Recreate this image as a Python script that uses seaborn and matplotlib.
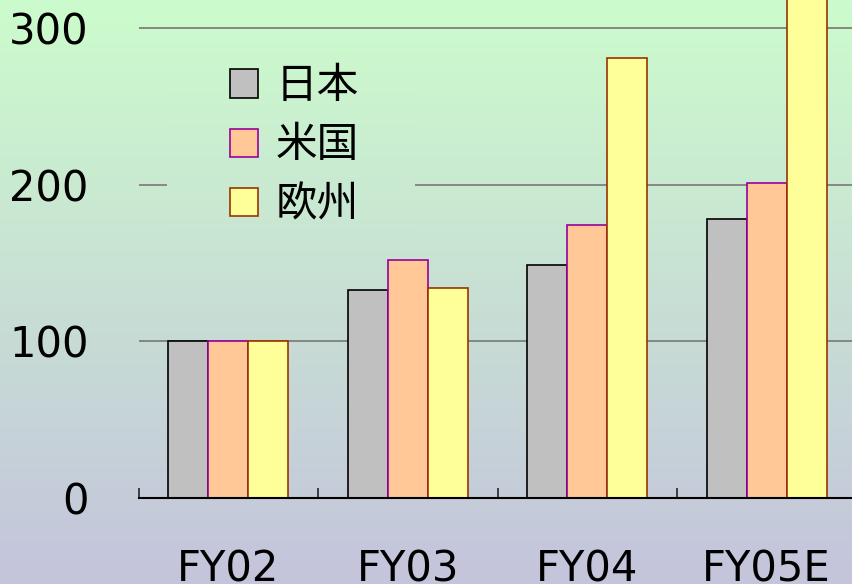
import matplotlib
matplotlib.use('Agg')
import matplotlib.pyplot as plt
import numpy as np
import pandas as pd
import seaborn as sns
from matplotlib.patches import Patch

# data
years = ["FY02", "FY03", "FY04", "FY05E"]
regions = ["日本", "米国", "欧州"]
japan = [100, 133, 149, 178]
usa = [100, 152, 174, 201]
europe = [100, 134, 281, 340]

fill_colors = {"日本": "#C0C0C0", "米国": "#FFC896", "欧州": "#FFFF99"}
edge_colors = {"日本": "#000000", "米国": "#990099", "欧州": "#993300"}

df = pd.DataFrame({
    "year": years * 3,
    "region": [r for r in regions for _ in years],
    "value": japan + usa + europe,
})

sns.set_style("white")
plt.rcParams['font.family'] = ['DejaVu Sans', 'Noto Sans CJK JP']
plt.rcParams['text.color'] = 'black'
plt.rcParams['xtick.color'] = 'black'
plt.rcParams['ytick.color'] = 'black'

W, H = 852, 584
fig = plt.figure(figsize=(W / 100, H / 100), dpi=100)

# gradient background (green at top -> lavender at bottom)
top = np.array([204, 252, 204]) / 255
bottom = np.array([196, 196, 220]) / 255


def gradient(y0, y1):
    t = np.linspace(y0 / H, y1 / H, 256)[:, None]
    return (top[None, :] * (1 - t) + bottom[None, :] * t)[:, None, :]


bg = fig.add_axes([0, 0, 1, 1], zorder=-10)
bg.imshow(gradient(0, H), aspect='auto', extent=[0, 1, 0, 1])
bg.axis('off')

ax = fig.add_axes([138.5 / W, 86 / H, 718 / W, 350 * 1.5667 / H])
ax.set_facecolor('none')

sns.barplot(data=df, x="year", y="value", hue="region", order=years,
            hue_order=regions, palette=fill_colors, width=0.67, gap=0,
            saturation=1, ax=ax, legend=False, zorder=3)

for container, reg in zip(ax.containers, regions):
    for bar in container:
        bar.set_edgecolor(edge_colors[reg])
        bar.set_linewidth(1.2)

ax.set_xlim(-0.5, 3.5)
ax.set_ylim(0, 350)
ax.set_yticks([0, 100, 200, 300])
ax.yaxis.grid(True, color='#808080', linewidth=1.3, zorder=0)
ax.set_axisbelow(True)
for s in ['left', 'right', 'top']:
    ax.spines[s].set_visible(False)
ax.spines['bottom'].set_color('black')
ax.spines['bottom'].set_linewidth(1.5)
ax.spines['bottom'].set_zorder(4)

ax.set_xticks([-0.5, 0.5, 1.5, 2.5], minor=True)
ax.tick_params(axis='x', which='minor', bottom=True, direction='in',
               length=7, width=1.3, color='#333333')
ax.tick_params(axis='x', which='major', length=0, pad=36, labelsize=30,
               labelcolor='black')
ax.tick_params(axis='y', length=0, pad=36, labelsize=30, labelcolor='black')
ax.set_xlabel("")
ax.set_ylabel("")

# legend box background (hides the gridline behind it)
lx0, lx1, ly0, ly1 = 167, 415, 45, 236
lbox = fig.add_axes([lx0 / W, 1 - ly1 / H, (lx1 - lx0) / W, (ly1 - ly0) / H],
                    zorder=5)
lbox.imshow(gradient(ly0, ly1), aspect='auto', extent=[0, 1, 0, 1])
lbox.axis('off')

handles = [Patch(facecolor=fill_colors[r], edgecolor=edge_colors[r],
                 linewidth=1.2) for r in regions]
leg = fig.legend(handles, regions, loc='upper left',
                 bbox_to_anchor=(230 / W, 1 - 66 / H),
                 prop={'family': ['Noto Sans CJK JP'], 'size': 30},
                 handlelength=0.67, handleheight=0.67, handletextpad=0.42,
                 labelspacing=0.44, frameon=False, borderpad=0,
                 borderaxespad=0)
leg.set_zorder(10)

fig.savefig("out.png", dpi=100)
